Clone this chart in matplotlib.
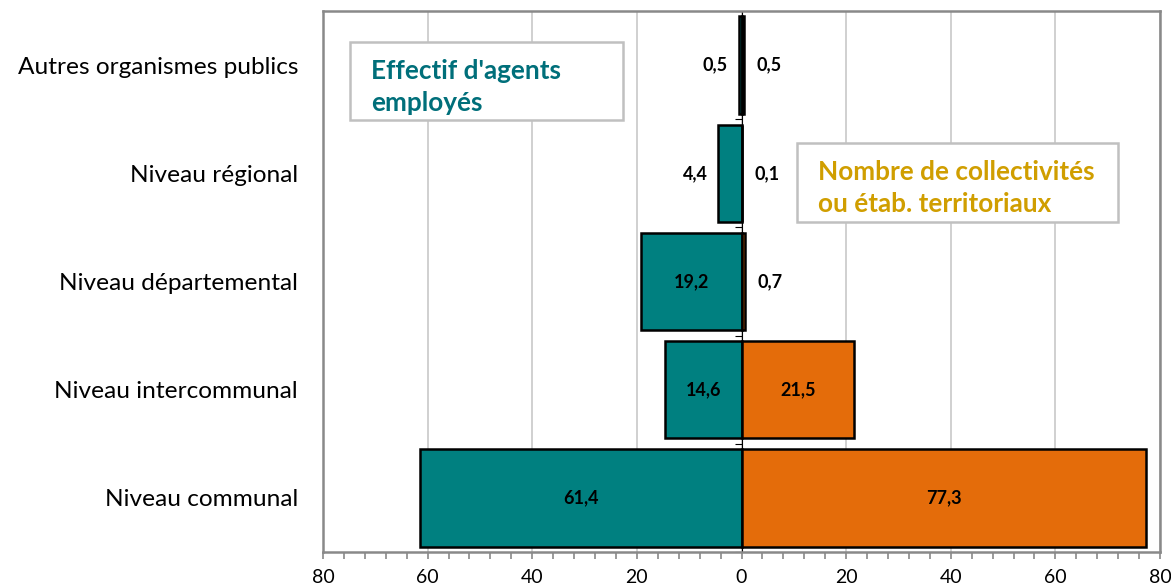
import matplotlib.pyplot as plt
from matplotlib.patches import Rectangle
from matplotlib.ticker import MultipleLocator, FuncFormatter

categories = [
    "Niveau communal",
    "Niveau intercommunal",
    "Niveau départemental",
    "Niveau régional",
    "Autres organismes publics",
]
agents = [61.4, 14.6, 19.2, 4.4, 0.5]
collectivites = [77.3, 21.5, 0.7, 0.1, 0.5]

TEAL = "#008080"
ORANGE = "#E46C0A"
GRID = "#c8c8c8"
FRAME = "#898989"

plt.rcParams["font.family"] = ["Lato", "DejaVu Sans"]


def fmt(v):
    return f"{v:.1f}".replace(".", ",")


fig = plt.figure(figsize=(11.71, 5.87), dpi=100)
ax = fig.add_axes([323 / 1171, 35 / 587, (1160 - 323) / 1171, (552 - 11) / 587])

y = list(range(len(categories)))
ax.barh(y, [-v for v in agents], height=0.9, color=TEAL, edgecolor="black", linewidth=1.8, zorder=3)
ax.barh(y, collectivites, height=0.9, color=ORANGE, edgecolor="black", linewidth=1.8, zorder=3)

# value labels: inside for big bars, just outside otherwise
lab = dict(va="center", fontsize=13, fontweight="bold", zorder=4)
for i, (a, c) in enumerate(zip(agents, collectivites)):
    if a > 10:
        ax.text(-a / 2, i, fmt(a), ha="center", **lab)
    else:
        ax.annotate(fmt(a), (-a, i), xytext=(-8, 0), textcoords="offset points", ha="right", **lab)
    if c > 10:
        ax.text(c / 2, i, fmt(c), ha="center", **lab)
    else:
        ax.annotate(fmt(c), (c, i), xytext=(9, 0), textcoords="offset points", ha="left", **lab)

ax.set_xlim(-80, 80)
ax.set_ylim(-0.5, len(categories) - 0.5)
ax.xaxis.set_major_locator(MultipleLocator(20))
ax.xaxis.set_minor_locator(MultipleLocator(4))
ax.xaxis.set_major_formatter(FuncFormatter(lambda v, _: f"{abs(v):.0f}"))
ax.set_yticks(y, categories)
ax.tick_params(axis="y", length=0, pad=18, labelsize=17.6)
ax.tick_params(axis="x", which="both", direction="out", length=5, width=1.2, color=FRAME,
               labelsize=14, pad=7)
ax.grid(True, axis="x", color=GRID, linewidth=1.2, zorder=0)
ax.set_axisbelow(True)
for side in ["left", "right", "top", "bottom"]:
    ax.spines[side].set_color(FRAME)
    ax.spines[side].set_linewidth(1.8)

# vertical axis at zero with its small category ticks
ax.axvline(0, color="black", linewidth=0.8, zorder=2)
ax.hlines([k + 0.5 for k in range(-1, len(categories))], -1.2, 0, color="black", linewidth=0.8, zorder=2)

# text boxes
for (x0, y0, x1, y1), tx, ty, label, col in [
    ((350, 42, 623, 120), 371, 87, "Effectif d'agents\nemployés", "#006f7a"),
    ((797, 143, 1118, 222), 818, 188, "Nombre de collectivités\nou étab. territoriaux", "#d09e00"),
]:
    fig.patches.append(Rectangle((x0 / 1171, 1 - y1 / 587), (x1 - x0) / 1171, (y1 - y0) / 587,
                                 transform=fig.transFigure, facecolor="white",
                                 edgecolor="#c0c0c0", linewidth=1.8, zorder=5))
    fig.text(tx / 1171, 1 - ty / 587, label, ha="left", va="center", fontsize=18.8,
             fontweight="bold", color=col, linespacing=1.38, zorder=6)

fig.savefig("out.png", dpi=100)
